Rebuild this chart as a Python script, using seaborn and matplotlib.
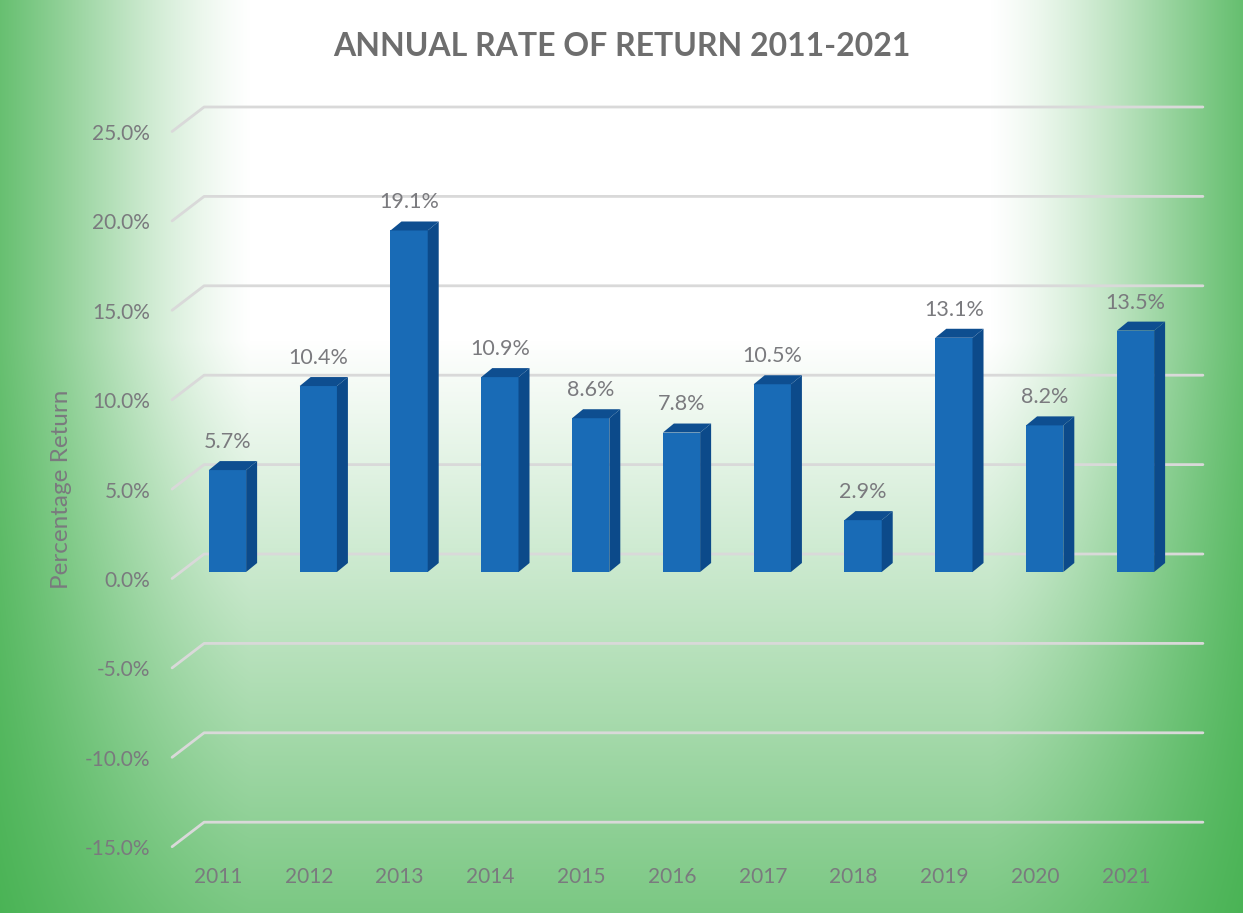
import numpy as np
import pandas as pd
import matplotlib
matplotlib.use("Agg")
import matplotlib.pyplot as plt
from matplotlib.transforms import ScaledTranslation, IdentityTransform
from matplotlib.patches import Polygon
from matplotlib.lines import Line2D
import seaborn as sns

# ---- data ----
years = ["2011", "2012", "2013", "2014", "2015", "2016", "2017", "2018", "2019", "2020", "2021"]
returns = [5.7, 10.4, 19.1, 10.9, 8.6, 7.8, 10.5, 2.9, 13.1, 8.2, 13.5]
y_ticks = [-15, -10, -5, 0, 5, 10, 15, 20, 25]
y_tick_labels = [f"{v:.1f}%" for v in y_ticks]
title = "ANNUAL RATE OF RETURN 2011-2021"
y_label = "Percentage Return"

sns.set_theme(style="white")
plt.rcParams['font.family'] = ['Lato', 'DejaVu Sans']

FRONT = "#196bb6"
SIDE = "#0c4a8a"
TOP = "#0e4e90"
GRAY = "#7a7a7e"
GRID = "#d9d9d9"

W, H = 1243, 913
fig = plt.figure(figsize=(W / 100, H / 100), dpi=100)

# ---- gradient background ----
yy, xx = np.mgrid[0:H, 0:W]
sx = np.clip((np.abs(xx - 620) - 370) / 340, 0, 1)
sy = np.clip((yy - 340) / 840, 0, 1)
sx = sx * sx * (3 - 2 * sx) * 0.5 + sx * 0.5
s = 1 - (1 - sx) * (1 - sy)
green = np.array([61, 174, 73]) / 255
img = 1 - s[..., None] * (1 - green)
bg = fig.add_axes([0, 0, 1, 1], zorder=-10)
bg.imshow(img, aspect="auto", origin="upper")
bg.axis("off")

# ---- main axes (bar plane) ----
ax = fig.add_axes([182.1 / W, (H - 840.2) / H, 998.8 / W, (840.2 - 125) / H])
ax.patch.set_alpha(0)
df = pd.DataFrame({"Year": years, "Return": returns})
sns.barplot(data=df, x="Year", y="Return", color=FRONT, saturation=1,
            width=0.41, ax=ax, zorder=3, edgecolor="none", linewidth=0)
ax.set_xlim(-0.5, 10.5)
ax.set_ylim(-15, 25)
ax.autoscale(False)
for sp in ax.spines.values():
    sp.set_visible(False)
ax.grid(False)
ax.set_xlabel("")
ax.set_ylabel("")
ax.set_yticks(y_ticks)
ax.set_yticklabels(y_tick_labels)
ax.tick_params(axis="y", length=0, pad=23, labelsize=15, labelcolor=GRAY)
ax.tick_params(axis="x", length=0, pad=19, labelsize=15, labelcolor=GRAY)
for lbl in ax.get_xticklabels():
    lbl.set_transform(lbl.get_transform() + ScaledTranslation(-0.095, 0, fig.dpi_scale_trans))
for lbl in ax.get_yticklabels():
    lbl.set_transform(lbl.get_transform() + ScaledTranslation(0, -0.07, fig.dpi_scale_trans))

# ---- perspective gridlines ----
x_left = ax.bbox.x0
x_right = ax.bbox.x1
for v in y_ticks:
    yb = ax.transData.transform((0, v))[1]
    xs = [x_left - 10, x_left + 22, x_right + 22]
    ys = [yb - 6.5, yb + 18, yb + 18]
    ln = Line2D(xs, ys, transform=IdentityTransform(), color=GRID, lw=2,
                zorder=1, clip_on=False, solid_capstyle="round")
    ax.add_line(ln)

# ---- 3D faces of bars ----
dx, dy = 11, 9
for p in ax.patches:
    (x0, y0) = ax.transData.transform((p.get_x(), p.get_y()))
    (x1, y1) = ax.transData.transform((p.get_x() + p.get_width(), p.get_y() + p.get_height()))
    side = Polygon([(x1, y0), (x1 + dx, y0 + dy), (x1 + dx, y1 + dy), (x1, y1)],
                   closed=True, transform=IdentityTransform(), facecolor=SIDE,
                   edgecolor="none", zorder=3, clip_on=False)
    top = Polygon([(x0, y1), (x0 + dx, y1 + dy), (x1 + dx, y1 + dy), (x1, y1)],
                  closed=True, transform=IdentityTransform(), facecolor=TOP,
                  edgecolor="none", zorder=3, clip_on=False)
    ax.add_patch(side)
    ax.add_patch(top)

ax.bar_label(ax.containers[0], labels=[f"{v:.1f}%" for v in returns],
             padding=13, fontsize=15.5, color=GRAY)

fig.text(0.5, 1 - 47 / H, title, ha="center", va="center", fontsize=23,
         fontweight="bold", color="#6e6e6e")
fig.text(62 / W, 1 - 489 / H, y_label, ha="center", va="center", rotation=90,
         fontsize=17.5, color=GRAY)

fig.savefig("out.png", dpi=100)
